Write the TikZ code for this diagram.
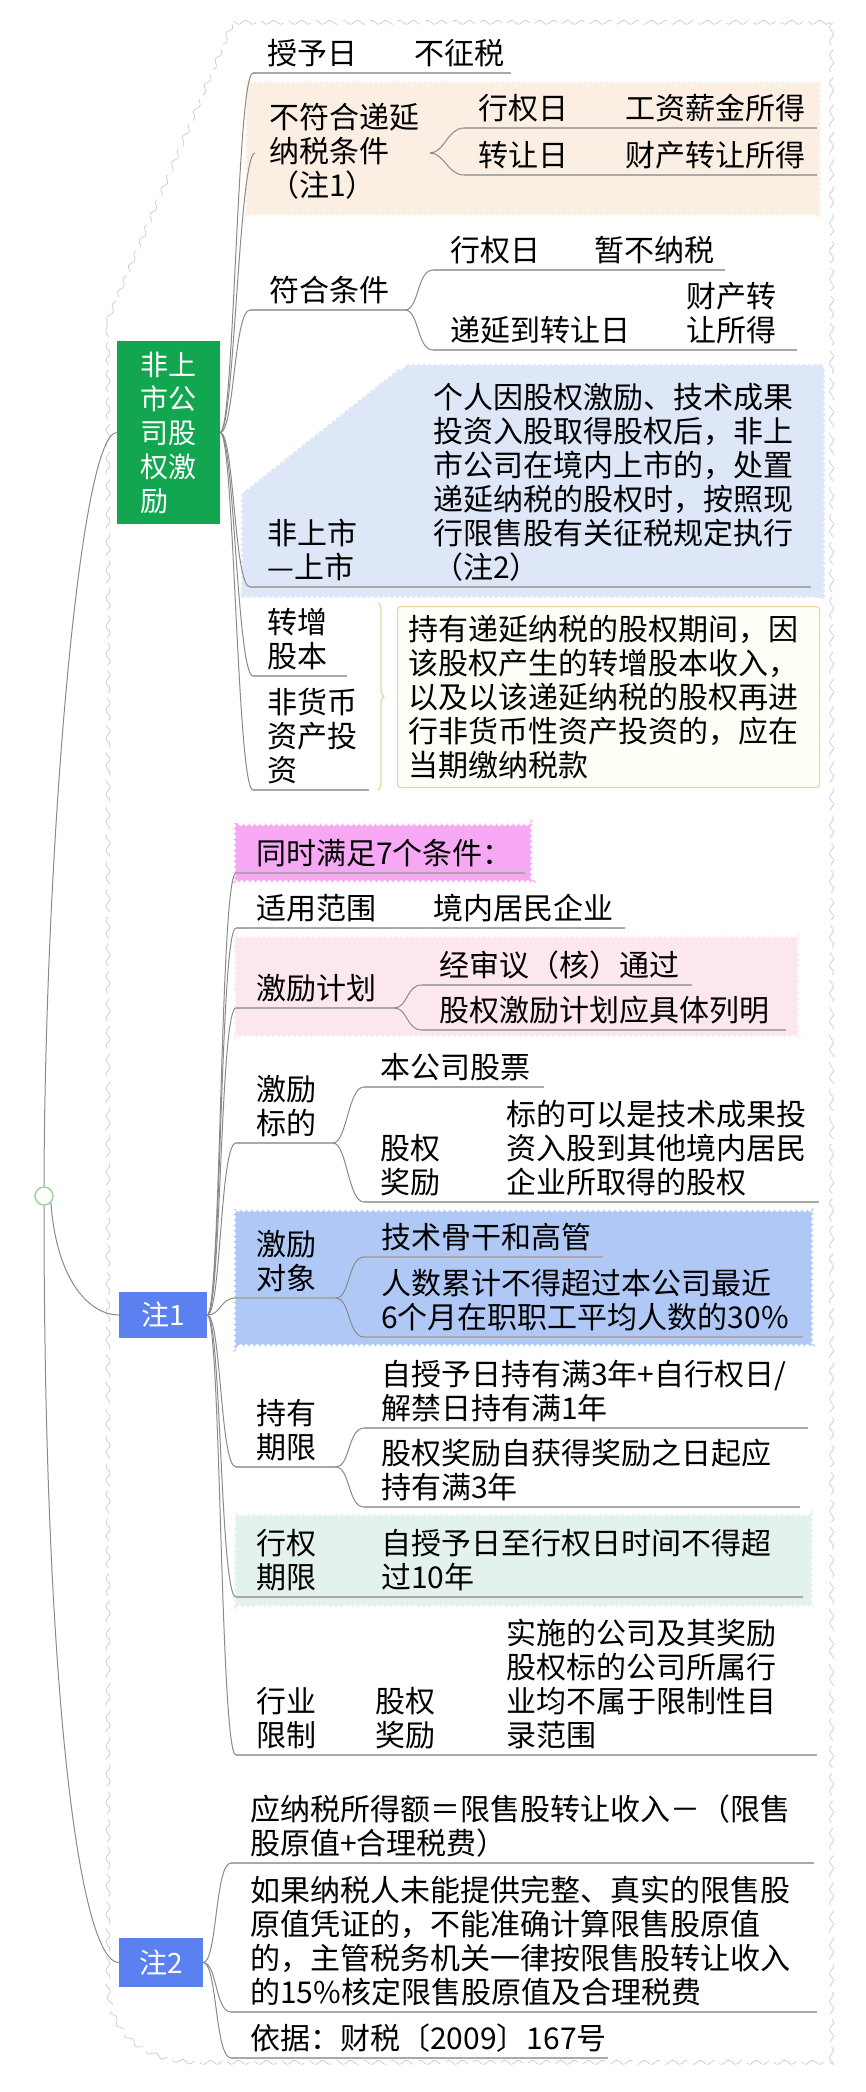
\documentclass[tikz,border=0pt]{standalone}
\usepackage{fontspec}
\setmainfont{Noto Sans CJK SC}
\usetikzlibrary{decorations.pathmorphing,decorations.pathreplacing}

\definecolor{lineg}{HTML}{8A8A8A}
\definecolor{ulg}{HTML}{A9A9A9}
\definecolor{rimc}{HTML}{BCC5D4}
\definecolor{hubc}{HTML}{9ED39E}
\definecolor{gbox}{HTML}{12A650}
\definecolor{nbox}{HTML}{5B80EF}
\definecolor{beigefill}{HTML}{FBEFE4}
\definecolor{palefill}{HTML}{DDE7F8}
\definecolor{tanline}{HTML}{E6D6A2}
\definecolor{creamfill}{HTML}{FFFEF6}
\definecolor{pinkfill}{HTML}{F6A8F5}
\definecolor{rosefill}{HTML}{FCE7EE}
\definecolor{skyfill}{HTML}{AFC8F6}
\definecolor{mintfill}{HTML}{E4F2EF}

\tikzstyle{leaf} = [anchor=south west, inner sep=0pt, align=left,
                 text depth=4pt, yshift=4.5pt]
\tikzstyle{uline} = [draw=ulg, line width=2pt]
\tikzstyle{branch} = [draw=lineg, line width=1pt]
\tikzstyle{scallop} = [decorate, decoration={bumps, segment length=11pt, amplitude=3pt}]
\tikzstyle{rim} = [draw=rimc, line width=0.6pt, dash pattern=on 26pt off 6pt,
                 decorate, decoration={snake, segment length=14pt, amplitude=2pt}]
\tikzstyle{hubbox} = [inner sep=0pt, text=white, align=left,
                 font=\fontsize{28}{34}\selectfont]

\begin{document}
\begin{tikzpicture}[x=1pt, y=-1pt, font=\fontsize{30}{34}\selectfont]

\useasboundingbox (0,0) rectangle (866,2092);

% frame
\draw[rim] (107,322) -- (233,22) -- (833,22) -- (833,2065) -- (200,2065)
    .. controls (140,2065) and (107,2035) .. (107,1985) -- cycle;

% coloured areas
\fill[beigefill, scallop] (244,80) rectangle (822,217);
\fill[palefill, scallop] (405,367) -- (822,367) -- (822,595) -- (244,595) -- (244,495) -- cycle;
\fill[pinkfill, scallop] (233,823) rectangle (533,883);
\fill[rosefill, scallop] (233,935) rectangle (800,1038);
\fill[skyfill, scallop] (233,1209) rectangle (814,1347);
\fill[mintfill, scallop] (233,1513) rectangle (814,1608);
\node[draw=tanline, fill=creamfill, line width=1.2pt, rounded corners=3pt, anchor=north west,
    minimum width=422pt, minimum height=181pt] (hold) at (397,606) {};

% main boxes
\node[hubbox, fill=gbox, minimum width=103pt, minimum height=183pt] (fsgq) at (168.5,432.5)
    {非上\\市公\\司股\\权激\\励};
\node[hubbox, fill=nbox, minimum width=88pt, minimum height=46pt] (zhu1) at (163,1315) {注1};
\node[hubbox, fill=nbox, minimum width=84pt, minimum height=49pt] (zhu2) at (161,1962.5) {注2};
\node[circle, draw=hubc, line width=1.5pt, fill=white, minimum size=18pt, inner sep=0pt]
    (hub) at (44,1196) {};

\draw[branch] (hub.north) .. controls +(1,-340) and +(-37,0) .. (fsgq.west);
\draw[branch] (hub.south east) .. controls +(6,80) and +(-28,0) .. (zhu1.west);
\draw[branch] (hub.south) .. controls +(0,500) and +(-38,0) .. (zhu2.west);

% underlines
\foreach \c/\x/\y/\e in {s1/253/73/511, s3/250/310/405, s4/250/587/811, s5/253/676/347,
    s6/253/790/369, s2a/464/128/817, s2b/464/175/817, s3a/433/270/725, s3b/433/350/797,
    n1/236/873/525, n2/236/928/625, n3/236/1008/394, n4/236/1143/333, n5/236/1298/336,
    n6/236/1467/336, n7/236/1597/803, n8/236/1755/817,
    n3a/422/985/692, n3b/422/1030/786, n4a/364/1087/544, n4b/364/1202/819,
    n5a/364/1257/603, n5b/364/1337/803, n6a/364/1428/808, n6b/364/1507/800,
    m1/231/1863/814, m2/231/2012/817, m3/231/2058/608}
{
    \coordinate (\c) at (\x,\y);
    \coordinate (\c e) at (\e,\y);
    \draw[uline] (\c) -- (\c e);
}
\coordinate (s2) at (255,153);
\coordinate (s2e) at (430,153);

% branches
\foreach \c in {s1,s2,s3,s4,s5,s6}
    \draw[branch] (fsgq.east) .. controls +(14,0) and +(-16,0) .. (\c);
\foreach \c in {n1,n2,n3,n4,n5,n6,n7,n8}
    \draw[branch] (zhu1.east) .. controls +(14,0) and +(-16,0) .. (\c);
\foreach \c in {m1,m2,m3}
    \draw[branch] (zhu2.east) .. controls +(14,0) and +(-16,0) .. (\c);
\foreach \p/\a/\b in {s2e/s2a/s2b, s3e/s3a/s3b, n3e/n3a/n3b, n4e/n4a/n4b, n5e/n5a/n5b, n6e/n6a/n6b}
{
    \draw[branch] (\p) .. controls +(14,0) and +(-16,0) .. (\a);
    \draw[branch] (\p) .. controls +(14,0) and +(-16,0) .. (\b);
}

\coordinate (br1) at (378,603);
\coordinate (br2) at (378,790);
\draw[draw=tanline, line width=1.2pt, decorate, decoration={brace, amplitude=6pt}] (br1) -- (br2);

% texts
\foreach \n/\x/\y/\t in {t11/267/73/授予日, t12/414/73/不征税, t22/478/128/行权日,
    t23/625/128/工资薪金所得, t24/478/175/转让日, t25/625/175/财产转让所得,
    t31/269/310/符合条件, t32/450/270/行权日, t33/594/270/暂不纳税, t34/450/350/递延到转让日,
    u11/256/873/同时满足7个条件：, u21/256/928/适用范围, u22/433/928/境内居民企业,
    u31/256/1008/激励计划, u32/439/985/经审议（核）通过, u33/439/1030/股权激励计划应具体列明,
    u42/380/1087/本公司股票, u52/381/1257/技术骨干和高管, v31/250/2058/依据：财税〔2009〕167号}
    \node[leaf] (\n) at (\x,\y) {\t};

\node[leaf] (t21) at (269,205) {不符合递延\\纳税条件\\（注1）};
\node[leaf] (t35) at (686,350) {财产转\\让所得};
\node[leaf] (t41) at (267,587) {非上市\\—上市};
\node[leaf] (t42) at (433,587) {个人因股权激励、技术成果\\投资入股取得股权后，非上\\市公司在境内上市的，处置\\递延纳税的股权时，按照现\\行限售股有关征税规定执行\\（注2）};
\node[leaf] (t51) at (267,676) {转增\\股本};
\node[leaf] (t61) at (267,790) {非货币\\资产投\\资};
\node[leaf] (t62) at (408,785) {持有递延纳税的股权期间，因\\该股权产生的转增股本收入，\\以及以该递延纳税的股权再进\\行非货币性资产投资的，应在\\当期缴纳税款};

\node[leaf] (u41) at (256,1143) {激励\\标的};
\node[leaf] (u43) at (380,1202) {股权\\奖励};
\node[leaf] (u44) at (506,1202) {标的可以是技术成果投\\资入股到其他境内居民\\企业所取得的股权};
\node[leaf] (u51) at (256,1298) {激励\\对象};
\node[leaf] (u53) at (381,1337) {人数累计不得超过本公司最近\\6个月在职职工平均人数的30\%};
\node[leaf] (u61) at (256,1467) {持有\\期限};
\node[leaf] (u62) at (381,1428) {自授予日持有满3年+自行权日/\\解禁日持有满1年};
\node[leaf] (u63) at (381,1507) {股权奖励自获得奖励之日起应\\持有满3年};
\node[leaf] (u71) at (256,1597) {行权\\期限};
\node[leaf] (u72) at (381,1597) {自授予日至行权日时间不得超\\过10年};
\node[leaf] (u81) at (256,1755) {行业\\限制};
\node[leaf] (u82) at (375,1755) {股权\\奖励};
\node[leaf] (u83) at (506,1755) {实施的公司及其奖励\\股权标的公司所属行\\业均不属于限制性目\\录范围};

\node[leaf] (v11) at (250,1863) {应纳税所得额＝限售股转让收入－（限售\\股原值+合理税费）};
\node[leaf] (v21) at (250,2012) {如果纳税人未能提供完整、真实的限售股\\原值凭证的，不能准确计算限售股原值\\的，主管税务机关一律按限售股转让收入\\的15\%核定限售股原值及合理税费};

\end{tikzpicture}
\end{document}
